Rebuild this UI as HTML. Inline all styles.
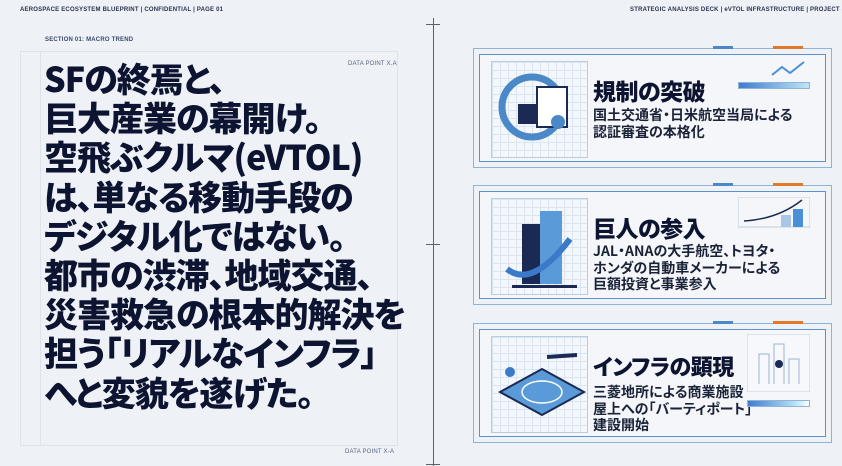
<!DOCTYPE html>
<html><head><meta charset="utf-8"><style>
*{margin:0;padding:0;box-sizing:border-box}
body{width:842px;height:466px;overflow:hidden;background:#eef1f5;font-family:"Liberation Sans","Noto Sans CJK JP",sans-serif;position:relative;color:#0e1630}
.a{position:absolute}
.small{font-size:6px;color:#2a3350;letter-spacing:.2px;font-weight:bold}
.main{left:44px;top:58px;font-size:34px;line-height:39.2px;font-weight:900;letter-spacing:-1px;color:#0d1431;white-space:nowrap;font-family:"Noto Sans CJK JP",sans-serif;font-feature-settings:"palt"}
.card{position:absolute;left:473px;width:359px;height:120px}
.card .outer{position:absolute;inset:0;border:1.5px solid #8fb4dc}
.card .inner{position:absolute;left:6px;top:6px;right:6px;bottom:6px;border:1.5px solid #5b93d0;background:#f4f6f9}
.icon{position:absolute;left:11px;top:6px;width:97px;height:97px;border:1px solid #b9cce2;
background-image:linear-gradient(#dbe5f0 1px,transparent 1px),linear-gradient(90deg,#dbe5f0 1px,transparent 1px);background-size:8px 8px;background-color:#f3f6fa}
.t{position:absolute;left:113px;font-weight:900;font-size:23px;color:#0d1431;letter-spacing:-.5px;font-family:"Noto Sans CJK JP",sans-serif;font-feature-settings:"palt";white-space:nowrap}
.s{position:absolute;left:113px;font-weight:bold;font-size:14px;line-height:16.5px;color:#1a2238;font-family:"Noto Sans CJK JP",sans-serif;font-feature-settings:"palt";white-space:nowrap}
.bar{position:absolute;height:3px}
</style></head><body>
<div class="a small" style="left:20px;top:7px">AEROSPACE ECOSYSTEM BLUEPRINT | CONFIDENTIAL | PAGE 01</div>
<div class="a small" style="left:630px;top:7px;white-space:nowrap">STRATEGIC ANALYSIS DECK | eVTOL INFRASTRUCTURE | PROJECT SKYLINE</div>
<div class="a small" style="left:45px;top:37px;color:#3a4b70">SECTION 01: MACRO TREND</div>
<div class="a small" style="left:348px;top:61px;color:#5a6580;font-weight:normal">DATA POINT X.A</div>
<div class="a small" style="left:345px;top:449px;color:#5a6580;font-weight:normal">DATA POINT X-A</div>
<div class="a" style="left:20px;top:51px;width:378px;height:395px;border:1px solid #dde3ec"></div>
<div class="a" style="left:40px;top:51px;width:1px;height:395px;background:#dde3ec"></div>
<div class="a" style="left:433px;top:18px;width:1px;height:448px;background:#5a6170"></div>
<div class="a" style="left:426px;top:24px;width:14px;height:1px;background:#5a6170"></div>
<div class="a" style="left:426px;top:244px;width:14px;height:1px;background:#5a6170"></div>
<div class="a" style="left:426px;top:464px;width:14px;height:1px;background:#5a6170"></div>
<div class="a main">SFの終焉と、<br>巨大産業の幕開け。<br>空飛ぶクルマ(eVTOL)<br>は、単なる移動手段の<br>デジタル化ではない。<br>都市の渋滞、地域交通、<br>災害救急の根本的解決を<br>担う「リアルなインフラ」<br>へと変貌を遂げた。</div>

<div class="card" style="top:48px"><div class="outer"></div><div class="inner">
<div class="icon"><svg width="97" height="97"><circle cx="40" cy="45" r="30" fill="none" stroke="#4a88c8" stroke-width="7"/><rect x="26" y="42" width="26" height="20" fill="#1b2a55"/><rect x="45" y="25" width="30" height="40" fill="#fff" stroke="#1b2a55" stroke-width="2"/><circle cx="66" cy="60" r="7" fill="#4a88c8"/></svg></div>
<div class="t" style="top:18px">規制の突破</div>
<div class="s" style="top:52px">国土交通省・日米航空当局による<br>認証審査の本格化</div>
<div class="bar" style="left:258px;top:27px;width:72px;height:7px;background:linear-gradient(90deg,#3f7bd0,#bde6f5);border:1px solid #8fb4dc"></div>
<svg class="a" style="left:290px;top:4px" width="40" height="20"><polyline points="2,16 12,8 20,14 34,3" fill="none" stroke="#4a90d9" stroke-width="2"/></svg>
</div><div class="bar" style="left:300px;top:-2px;width:30px;background:#e07a2a"></div><div class="bar" style="left:240px;top:-2px;width:20px;background:#4a88c8"></div></div>

<div class="card" style="top:185px"><div class="outer"></div><div class="inner">
<div class="icon"><svg width="97" height="97"><rect x="30" y="25" width="22" height="60" fill="#1b2a55"/><rect x="48" y="12" width="22" height="73" fill="#5a9ad8"/><rect x="20" y="86" width="65" height="3" fill="#1b2a55"/><path d="M15 70 Q40 90 78 40" fill="none" stroke="#3a7ac8" stroke-width="6"/></svg></div>
<div class="t" style="top:18px">巨人の参入</div>
<div class="s" style="top:51px">JAL・ANAの大手航空、トヨタ・<br>ホンダの自動車メーカーによる<br>巨額投資と事業参入</div>
<svg class="a" style="left:258px;top:5px" width="72" height="40"><rect x="0" y="0" width="72" height="30" fill="none" stroke="#c0cfe0"/><rect x="55" y="12" width="10" height="18" fill="#4a90d9"/><rect x="43" y="18" width="10" height="12" fill="#a8c6e8"/><path d="M6 24 Q40 22 64 3" fill="none" stroke="#1b2a55" stroke-width="1.5"/></svg>
</div><div class="bar" style="left:300px;top:-2px;width:30px;background:#e07a2a"></div><div class="bar" style="left:240px;top:-2px;width:20px;background:#4a88c8"></div></div>

<div class="card" style="top:323px"><div class="outer"></div><div class="inner">
<div class="icon"><svg width="97" height="97"><polygon points="8,55 50,32 92,55 50,78" fill="#5a9ad8" stroke="#1b2a55" stroke-width="2"/><ellipse cx="50" cy="55" rx="20" ry="11" fill="none" stroke="#fff" stroke-width="1.5"/><circle cx="18" cy="35" r="5" fill="#3a7ac8"/><path d="M55 20 L85 18" stroke="#1b2a55" stroke-width="4"/></svg></div>
<div class="t" style="top:20px;font-size:22px">インフラの顕現</div>
<div class="s" style="top:54px">三菱地所による商業施設<br>屋上への「バーティポート」<br>建設開始</div>
<svg class="a" style="left:267px;top:4px" width="63" height="58"><rect x="0" y="0" width="63" height="58" fill="#f6f8fb" stroke="#c0cfe0"/><path d="M12 50 V20 h10 V50 M27 50 V10 h10 V50 M42 50 V25 h10 V50" fill="none" stroke="#9bb5d5"/><circle cx="32" cy="30" r="4" fill="#1b2a55"/></svg>
<div class="bar" style="left:267px;top:70px;width:63px;height:7px;background:linear-gradient(90deg,#3f7bd0,#bde6f5 80%,#fff);border:1px solid #8fb4dc"></div>
</div><div class="bar" style="left:300px;top:-2px;width:30px;background:#e07a2a"></div><div class="bar" style="left:240px;top:-2px;width:20px;background:#4a88c8"></div></div>
</body></html>
